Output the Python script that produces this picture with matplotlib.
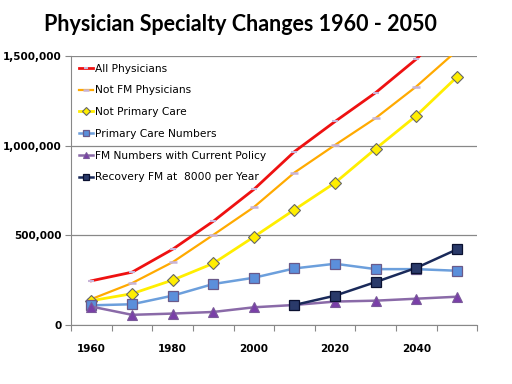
import matplotlib
matplotlib.use("Agg")
import matplotlib.pyplot as plt
import numpy as np

# ----------------------------------------------------------------------------
# Data
# ----------------------------------------------------------------------------
YEARS = [1960, 1970, 1980, 1990, 2000, 2010, 2020, 2030, 2040, 2050]
ALL_PHYS = [246000, 294000, 422000, 578000, 756000, 967000, 1135000, 1296000, 1483000, 1700000]
NOT_FM = [144000, 233000, 350000, 502000, 657000, 850000, 1004000, 1154000, 1330000, 1530000]
NOT_PRIMARY = [135000, 174000, 250000, 343000, 491000, 643000, 793000, 983000, 1167000, 1383000]
PRIMARY = [109000, 115000, 163000, 228000, 263000, 315000, 341000, 311000, 311000, 302000]
FM_CURRENT = [102000, 56000, 63000, 72000, 98000, 111000, 130000, 135000, 146000, 157000]
RECOVERY_YEARS = [2010, 2020, 2030, 2040, 2050]
RECOVERY_FM = [111000, 163000, 239000, 318000, 421000]

YTICKS = [0, 500000, 1000000, 1500000]

plt.rcParams.update({
    "font.family": ["DejaVu Sans"],
    "axes.unicode_minus": False,
})


def main():
    fig = plt.figure(figsize=(5.12, 3.84), dpi=100)
    ax = fig.add_axes([0.139, 0.154, 0.793, 0.700])

    xpos = {y: i for i, y in enumerate(YEARS)}
    x = np.array([xpos[y] for y in YEARS])
    xr = np.array([xpos[y] for y in RECOVERY_YEARS])

    ax.plot(x, ALL_PHYS, color="#ee1111", lw=2.0, marker="_", ms=5,
            mec="#c8b4d8", mew=1.5, label="All Physicians", zorder=3)
    ax.plot(x, NOT_FM, color="#ffaa00", lw=1.6, marker="_", ms=6,
            mec="#c8b4d8", mew=1.8, label="Not FM Physicians", zorder=3)
    ax.plot(x, NOT_PRIMARY, color="#ffee00", lw=2.0, marker="D", ms=6,
            mfc="#ffee00", mec="#666666", mew=0.8, label="Not Primary Care", zorder=3)
    ax.plot(x, PRIMARY, color="#6c9fdc", lw=1.8, marker="s", ms=7,
            mfc="#5b8fdb", mec="#6a5a8a", mew=0.9, label="Primary Care Numbers", zorder=3)
    ax.plot(x, FM_CURRENT, color="#8a6aa8", lw=1.8, marker="^", ms=7,
            mfc="#7a3fa8", mec="#7a5a9a", mew=0.8,
            label="FM Numbers with Current Policy", zorder=3)
    ax.plot(xr, RECOVERY_FM, color="#1a2a5a", lw=1.8, marker="s", ms=7,
            mfc="#2a3a6a", mec="#0a1030", mew=0.9,
            label="Recovery FM at  8000 per Year", zorder=4)

    ax.set_xlim(-0.5, len(YEARS) - 0.5)
    ax.set_ylim(0, 1500000)

    ax.set_yticks(YTICKS)
    ax.set_yticklabels([f"{v:,}" for v in YTICKS], fontsize=7.5, fontweight="bold")
    ax.yaxis.grid(True, color="#888888", lw=0.9)
    ax.set_axisbelow(True)

    # category axis: ticks between categories, labels every other year
    ax.set_xticks(np.arange(-0.5, len(YEARS), 1.0))
    ax.set_xticklabels([])
    ax.set_xticks(x[::2], minor=True)
    ax.set_xticklabels([str(y) for y in YEARS[::2]], minor=True,
                       fontsize=7.5, fontweight="bold")
    ax.tick_params(axis="x", which="minor", length=0, pad=14)
    ax.tick_params(axis="x", which="major", length=4, direction="out", color="#888888")
    ax.tick_params(axis="y", length=4, direction="out", color="#888888", pad=3)

    for s in ("top", "right"):
        ax.spines[s].set_visible(False)
    for s in ("left", "bottom"):
        ax.spines[s].set_color("#888888")

    ax.legend(loc="upper left", bbox_to_anchor=(0.0, 1.0), frameon=False,
              fontsize=7.7, handlelength=1.3, handletextpad=0.2,
              labelspacing=1.1, borderaxespad=0.3, markerscale=0.7)

    fig.text(0.47, 0.935, "Physician Specialty Changes 1960 - 2050",
             ha="center", va="center", fontsize=15.5, fontweight="bold",
             family=["Lato", "DejaVu Sans"])

    fig.savefig("out.png", dpi=100, facecolor="white")
    plt.close(fig)


if __name__ == "__main__":
    main()
